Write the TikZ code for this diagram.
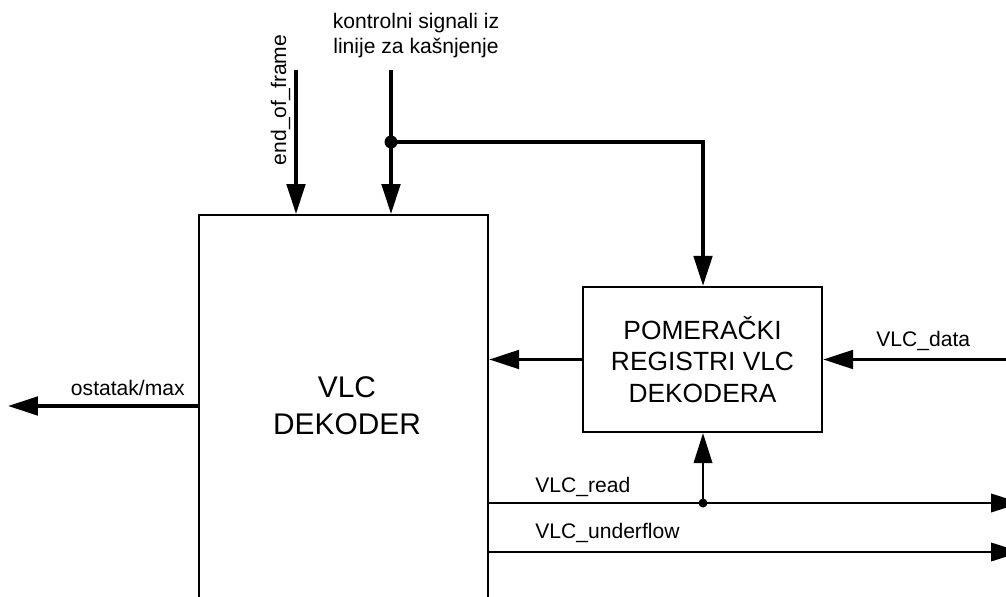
\documentclass[tikz,border=0pt]{standalone}
\usepackage{fontspec}
\setmainfont{Liberation Sans}
\usetikzlibrary{arrows.meta}

\begin{document}
\begin{tikzpicture}[x=0.02cm, y=-0.02cm,
    >={Triangle[length=0.6cm, width=0.37cm]},
    font=\fontsize{12}{14.2}\selectfont,
    thickline/.style={line width=2pt},
    thinline/.style={line width=1.2pt},
    block/.style={rectangle, draw, line width=1.3pt}]
    \useasboundingbox (0,0) rectangle (1006,597);
    \clip (0,0) rectangle (1006,597);

    \node (dec) [block, minimum width=5.78cm, minimum height=9cm, anchor=north] at (343.5,214) {};
    \node (dectext) [align=center, font=\fontsize{17}{21}\selectfont] at (347,406) {VLC\\DEKODER};
    \node (shreg) [block, minimum width=4.78cm, minimum height=2.9cm, align=center, font=\fontsize{15}{17.9}\selectfont] at (702.5,359.5) {POMERAČKI\\REGISTRI VLC\\DEKODERA};

    \coordinate (eofin) at (296,70);
    \coordinate (ctrlin) at (391,70);
    \coordinate (split) at (391,142);
    \coordinate (turn) at (703,142);
    \coordinate (ostout) at (8,406);
    \coordinate (datain) at (1006,359.5);
    \coordinate (readtap) at (703,503);
    \coordinate (readout) at (1021,503);
    \coordinate (uflout) at (1021,552);

    \node (ctrllbl) [align=center, anchor=north, inner sep=0pt] at (416,12.5) {kontrolni signali iz\\linije za kašnjenje};
    \node (eoflbl) [rotate=90, anchor=base, inner sep=0pt] at (286,100) {end\_of\_frame};
    \node (ostlbl) [anchor=base east, inner sep=0pt] at (185,395) {ostatak/max};
    \node (datalbl) [anchor=base west, inner sep=0pt] at (876,347) {VLC\_data};
    \node (readlbl) [anchor=base west, inner sep=0pt] at (535,492) {VLC\_read};
    \node (ufllbl) [anchor=base west, inner sep=0pt] at (535,538) {VLC\_underflow};

    \draw [->, thickline] (eofin) -- (eofin |- dec.north);
    \draw [->, thickline] (ctrlin) -- (ctrlin |- dec.north);
    \draw [->, thickline] (split) -- (turn) -- (turn |- shreg.north);
    \fill (split) circle [radius=0.13cm];
    \draw [->, thickline] (shreg.west) -- (shreg.west -| dec.east);
    \draw [->, thickline] (datain) -- (shreg.east);
    \draw [->, thickline] (dec.west |- ostout) -- (ostout);
    \draw [->, thinline] (dec.east |- readtap) -- (readout);
    \draw [->, thinline] (readtap) -- (readtap |- shreg.south);
    \fill (readtap) circle [radius=0.09cm];
    \draw [->, thinline] (dec.east |- uflout) -- (uflout);
\end{tikzpicture}
\end{document}
